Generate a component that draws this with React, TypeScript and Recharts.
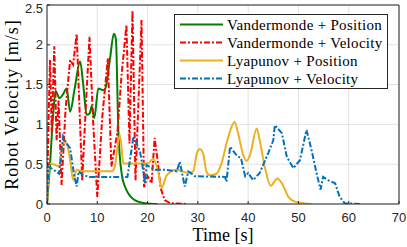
import { LineChart, Line, XAxis, YAxis, CartesianGrid, Legend, Label } from "recharts";

const timeTicks = [0, 10, 20, 30, 40, 50, 60, 70];
const velTicks = [0, 0.5, 1, 1.5, 2, 2.5];

// Vandermonde + Position
const vandPosTime = [0, 0.6, 1.2, 1.7, 2.5, 3.2, 3.9, 4.6, 5.5, 6.6, 7.2, 7.9, 8.5, 8.9, 9.4, 10.2, 11.2, 11.6, 12.5, 13.3, 13.7, 14.2, 14.9, 15.5, 16.2, 17.2, 18.1, 19.5, 21.9];
const vandPosVel = [0, 0.5, 1.1, 1.42, 1.33, 1.38, 1.45, 1.16, 1.45, 1.79, 1.5, 1.12, 1.14, 1.23, 1.08, 1.45, 1.43, 1.45, 1.81, 2.14, 2.07, 0.9, 0.36, 0.22, 0.13, 0.06, 0.03, 0.01, 0];

// Vandermonde + Velocity
const vandVelTime = [0, 0.25, 0.6, 0.95, 1.45, 1.9, 2.3, 2.9, 3.7, 4.6, 5.2, 5.9, 7.0, 7.7, 8.45, 9.2, 10.0, 11.0, 12.1, 12.8, 14.0, 14.8, 15.8, 16.4, 17.0, 17.6, 18.8, 19.3, 20.0, 20.8, 21.4, 22.0, 22.6, 23.4, 24.5, 27.8];
const vandVelVel = [0, 0.9, 1.81, 0.9, 1.98, 0.8, 1.3, 0.24, 1.2, 1.81, 1.75, 2.14, 0.3, 1.2, 2.1, 1.0, 0.09, 1.1, 1.83, 0.47, 0.9, 1.6, 2.25, 0.76, 2.43, 0.3, 2.31, 0.21, 0.35, 0.26, 0.83, 0.55, 0.2, 0.05, 0.01, 0];

// Lyapunov + Position
const lyapPosTime = [0, 0.6, 1.6, 2.4, 3.2, 3.9, 4.6, 5.2, 5.9, 6.9, 12.9, 13.4, 14.5, 15.2, 20.1, 21.1, 22.1, 22.8, 23.8, 25.8, 28.1, 29.1, 29.8, 30.4, 31.1, 31.7, 32.4, 33.7, 34.7, 35.7, 36.7, 37.3, 38.0, 39.0, 39.7, 40.4, 41.7, 42.3, 43.3, 44.5, 45.8, 46.7, 48.0, 49.3, 52.6];
const lyapPosVel = [0, 0.51, 0.49, 0.47, 0.78, 0.76, 0.55, 0.3, 0.43, 0.41, 0.41, 0.45, 0.87, 0.51, 0.51, 0.57, 0.41, 0.2, 0.36, 0.43, 0.39, 0.41, 0.64, 0.69, 0.62, 0.41, 0.36, 0.38, 0.51, 0.76, 0.97, 1.03, 0.89, 0.62, 0.54, 0.62, 0.95, 0.8, 0.47, 0.23, 0.32, 0.26, 0.09, 0.03, 0];

// Lyapunov + Velocity
const lyapVelTime = [0, 0.3, 1.3, 2.4, 3.2, 3.9, 4.6, 5.4, 5.9, 6.3, 7.2, 8.5, 16.0, 17.2, 18.5, 19.1, 19.5, 19.8, 21.5, 23.5, 25.8, 26.4, 27.4, 28.1, 29.4, 35.4, 35.7, 36.4, 37.6, 38.6, 39.4, 40.0, 41.0, 42.3, 44.0, 45.0, 45.3, 46.7, 47.7, 49.0, 50.3, 51.6, 52.6, 53.6, 54.4, 54.9, 55.9, 57.3, 58.2, 59.2, 62.2];
const lyapVelVel = [0, 0.47, 0.43, 0.38, 0.85, 0.76, 0.7, 0.36, 0.22, 0.41, 0.36, 0.34, 0.34, 0.85, 0.66, 0.43, 0.26, 0.49, 0.43, 0.43, 0.41, 0.53, 0.22, 0.41, 0.35, 0.34, 0.28, 0.72, 0.62, 0.57, 0.35, 0.39, 0.3, 0.39, 0.64, 0.8, 0.99, 0.89, 0.59, 0.45, 0.55, 0.93, 0.68, 0.39, 0.18, 0.34, 0.3, 0.26, 0.09, 0.01, 0];

const toPoints = (t: number[], v: number[]) => t.map((x, i) => ({ t: x, v: v[i] }));

const series = [
  { name: "Vandermonde + Position", data: toPoints(vandPosTime, vandPosVel), color: "#008000", dash: undefined, curve: "monotone" },
  { name: "Vandermonde + Velocity", data: toPoints(vandVelTime, vandVelVel), color: "#ff0000", dash: "6 2 2 2", curve: "linear" },
  { name: "Lyapunov + Position", data: toPoints(lyapPosTime, lyapPosVel), color: "#edb120", dash: undefined, curve: "monotone" },
  { name: "Lyapunov + Velocity", data: toPoints(lyapVelTime, lyapVelVel), color: "#0072bd", dash: "6 2 2 2", curve: "linear" },
];

const axisColor = "#262626";
const sans = "'Liberation Sans', Arial, Helvetica, sans-serif";
const serif = "'Liberation Serif', 'Times New Roman', Times, serif";
const tickFont = { fontFamily: sans, fontSize: 13, fill: axisColor };

function LegendBox() {
  return (
    <svg width={214} height={75} style={{ display: "block" }}>
      <rect x={0.5} y={0.5} width={213} height={74} fill="#fff" stroke={axisColor} />
      {series.map((s, i) => (
        <g key={s.name}>
          <line x1={6} x2={49} y1={10.5 + i * 18} y2={10.5 + i * 18} stroke={s.color} strokeWidth={2} strokeDasharray={s.dash} />
          <text x={53} y={15.5 + i * 18} style={{ fontFamily: serif, fontSize: 15, letterSpacing: 0.3 }} fill="#000">
            {s.name}
          </text>
        </g>
      ))}
    </svg>
  );
}

export default function App() {
  return (
    <div style={{ position: "absolute", left: 0, top: 0, background: "#fff" }}>
      <LineChart width={407} height={247} margin={{ top: 4, right: 7, bottom: 0, left: 0 }}>
        <CartesianGrid stroke="#e3e3e3" strokeWidth={1} />
        <XAxis
          type="number"
          dataKey="t"
          domain={[0, 70]}
          ticks={timeTicks}
          height={43}
          stroke={axisColor}
          tickSize={-3}
          tickMargin={12}
          tick={tickFont}
          allowDataOverflow
        >
          <Label
            content={(p: any) => (
              <text x={p.viewBox.x + p.viewBox.width / 2} y={p.viewBox.y + 37} textAnchor="middle" style={{ fontFamily: serif, fontSize: 18 }} fill="#000">
                Time [s]
              </text>
            )}
          />
        </XAxis>
        <XAxis
          xAxisId="top"
          orientation="top"
          type="number"
          domain={[0, 70]}
          ticks={timeTicks}
          height={1}
          stroke={axisColor}
          tickSize={-3}
          tickFormatter={() => ""}
        />
        <YAxis
          type="number"
          domain={[0, 2.5]}
          ticks={velTicks}
          width={47}
          stroke={axisColor}
          tickSize={-3}
          tickMargin={7}
          tick={tickFont}
          allowDataOverflow
        >
          <Label
            content={(p: any) => {
              const cx = p.viewBox.x + 12;
              const cy = p.viewBox.y + p.viewBox.height / 2;
              return (
                <text x={cx} y={cy} transform={`rotate(-90 ${cx} ${cy})`} textAnchor="middle" dominantBaseline="central" style={{ fontFamily: serif, fontSize: 18, letterSpacing: 1 }} fill="#000">
                  Robot Velocity [m/s]
                </text>
              );
            }}
          />
        </YAxis>
        <YAxis
          yAxisId="right"
          orientation="right"
          type="number"
          domain={[0, 2.5]}
          ticks={velTicks}
          width={1}
          stroke={axisColor}
          tickSize={-3}
          tickFormatter={() => ""}
        />
        {series.map((s) => (
          <Line
            key={s.name}
            name={s.name}
            data={s.data}
            dataKey="v"
            type={s.curve as any}
            stroke={s.color}
            strokeWidth={2}
            strokeDasharray={s.dash}
            dot={false}
            activeDot={false}
            isAnimationActive={false}
          />
        ))}
        <Legend
          layout="horizontal"
          verticalAlign="middle"
          align="center"
          content={() => <LegendBox />}
          wrapperStyle={{ left: 174, top: 14, width: 214, height: 75 }}
        />
      </LineChart>
    </div>
  );
}
